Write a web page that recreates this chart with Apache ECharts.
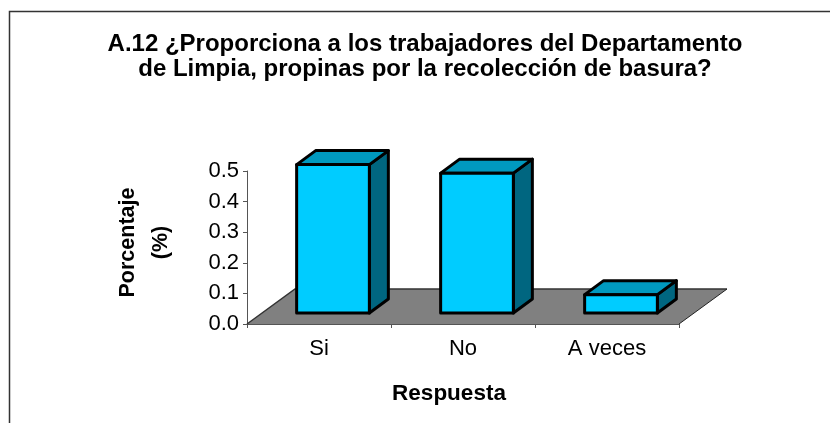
<!DOCTYPE html>
<html>
<head>
<meta charset="utf-8">
<style>
  html, body { margin: 0; padding: 0; background: #fff; }
  #chart { width: 830px; height: 423px; }
</style>
<script src="https://cdn.jsdelivr.net/npm/echarts@6/dist/echarts.min.js"></script>
</head>
<body>
<div id="chart"></div>
<script>
var categories = ['Si', 'No', 'A veces'];
var values = [0.485, 0.457, 0.06];
var yTicks = { min: 0, max: 0.5, interval: 0.1 };
var titleLines = [
  'A.12 ¿Proporciona a los trabajadores del Departamento',
  'de Limpia, propinas por la recolección de basura?'
];

var myChart = echarts.init(document.getElementById('chart'), null, { renderer: 'canvas' });

// fake 3d: the floor runs back by this much, bars stand part way in
var floorDepth = [48, -35];
var barInset = [14, -11];
var barDepth = [19, -14];

function floorItem(params, api) {
  var c = params.coordSys;
  var l = c.x, r = c.x + c.width, b = c.y + c.height;
  return {
    type: 'group',
    children: [
      {
        type: 'polygon',
        shape: { points: [[l, b], [l + floorDepth[0], b + floorDepth[1]], [r + floorDepth[0], b + floorDepth[1]], [r, b]] },
        style: { fill: '#808080', stroke: null }
      },
      {
        type: 'polyline',
        shape: { points: [[l, b], [l + floorDepth[0], b + floorDepth[1]], [r + floorDepth[0], b + floorDepth[1]]] },
        style: { fill: null, stroke: '#333', lineWidth: 1.5 }
      },
      {
        type: 'line',
        shape: { x1: r, y1: b, x2: r + floorDepth[0], y2: b + floorDepth[1] },
        style: { stroke: '#222', lineWidth: 1 }
      }
    ]
  };
}

function barItem(params, api) {
  var top = api.coord([api.value(0), api.value(1)]);
  var base = api.coord([api.value(0), 0]);
  var w = api.size([1, 0])[0] * 0.505;
  var x0 = top[0] - w / 2 + barInset[0];
  var x1 = x0 + w;
  var y0 = top[1] + barInset[1];
  var y1 = base[1] + barInset[1];
  var dx = barDepth[0], dy = barDepth[1];
  var line = { stroke: '#000', lineWidth: 3, lineJoin: 'round' };
  return {
    type: 'group',
    children: [
      {
        type: 'polygon',
        shape: { points: [[x1, y0], [x1 + dx, y0 + dy], [x1 + dx, y1 + dy], [x1, y1]] },
        style: Object.assign({ fill: '#006680' }, line)
      },
      {
        type: 'polygon',
        shape: { points: [[x0, y0], [x0 + dx, y0 + dy], [x1 + dx, y0 + dy], [x1, y0]] },
        style: Object.assign({ fill: '#0099BF' }, line)
      },
      {
        type: 'rect',
        shape: { x: x0, y: y0, width: w, height: y1 - y0 },
        style: Object.assign({ fill: '#00CCFF' }, line)
      }
    ]
  };
}

var option = {
  backgroundColor: '#fff',
  animation: false,
  textStyle: { fontFamily: 'Liberation Sans' },
  title: {
    text: titleLines.join('\n'),
    left: 420,
    top: 27,
    textAlign: 'center',
    textStyle: {
      fontFamily: 'Liberation Sans',
      fontWeight: 'bold',
      fontSize: 24,
      lineHeight: 25,
      color: '#000'
    }
  },
  graphic: [
    {
      type: 'polyline',
      silent: true,
      shape: { points: [[9.5, 430], [9.5, 11.5], [835, 11.5]] },
      style: { fill: null, stroke: '#333', lineWidth: 1.5 }
    }
  ],
  grid: { left: 247, top: 171, width: 432, height: 153 },
  xAxis: {
    type: 'category',
    data: categories,
    name: 'Respuesta',
    nameLocation: 'middle',
    nameGap: 58,
    nameTextStyle: { fontFamily: 'Liberation Sans', fontWeight: 'bold', fontSize: 22.5, color: '#000', padding: [0, 28, 0, 0] },
    axisLine: { lineStyle: { color: '#555', width: 1 } },
    axisTick: { show: true, length: 4, lineStyle: { color: '#555' } },
    axisLabel: { fontSize: 22, color: '#000', margin: 14 },
    splitLine: { show: false }
  },
  yAxis: {
    type: 'value',
    min: yTicks.min,
    max: yTicks.max,
    interval: yTicks.interval,
    name: 'Porcentaje\n(%)',
    nameLocation: 'middle',
    nameGap: 69,
    nameRotate: 90,
    nameTextStyle: { fontFamily: 'Liberation Sans', fontWeight: 'bold', fontSize: 21.5, lineHeight: 33, color: '#000', padding: [0, 0, 0, 10] },
    axisLine: { show: true, lineStyle: { color: '#555', width: 1 } },
    axisTick: { show: true, length: 4, lineStyle: { color: '#555' } },
    axisLabel: {
      fontSize: 22,
      color: '#000',
      margin: 8,
      formatter: function (v) { return v.toFixed(1); }
    },
    splitLine: { show: false }
  },
  series: [
    {
      type: 'custom',
      silent: true,
      z: 1,
      renderItem: floorItem,
      data: [[0, 0]]
    },
    {
      type: 'custom',
      silent: true,
      z: 3,
      renderItem: barItem,
      encode: { x: 0, y: 1 },
      data: values.map(function (v, i) { return [i, v]; })
    }
  ]
};
option && myChart.setOption(option);
</script>
</body>
</html>
